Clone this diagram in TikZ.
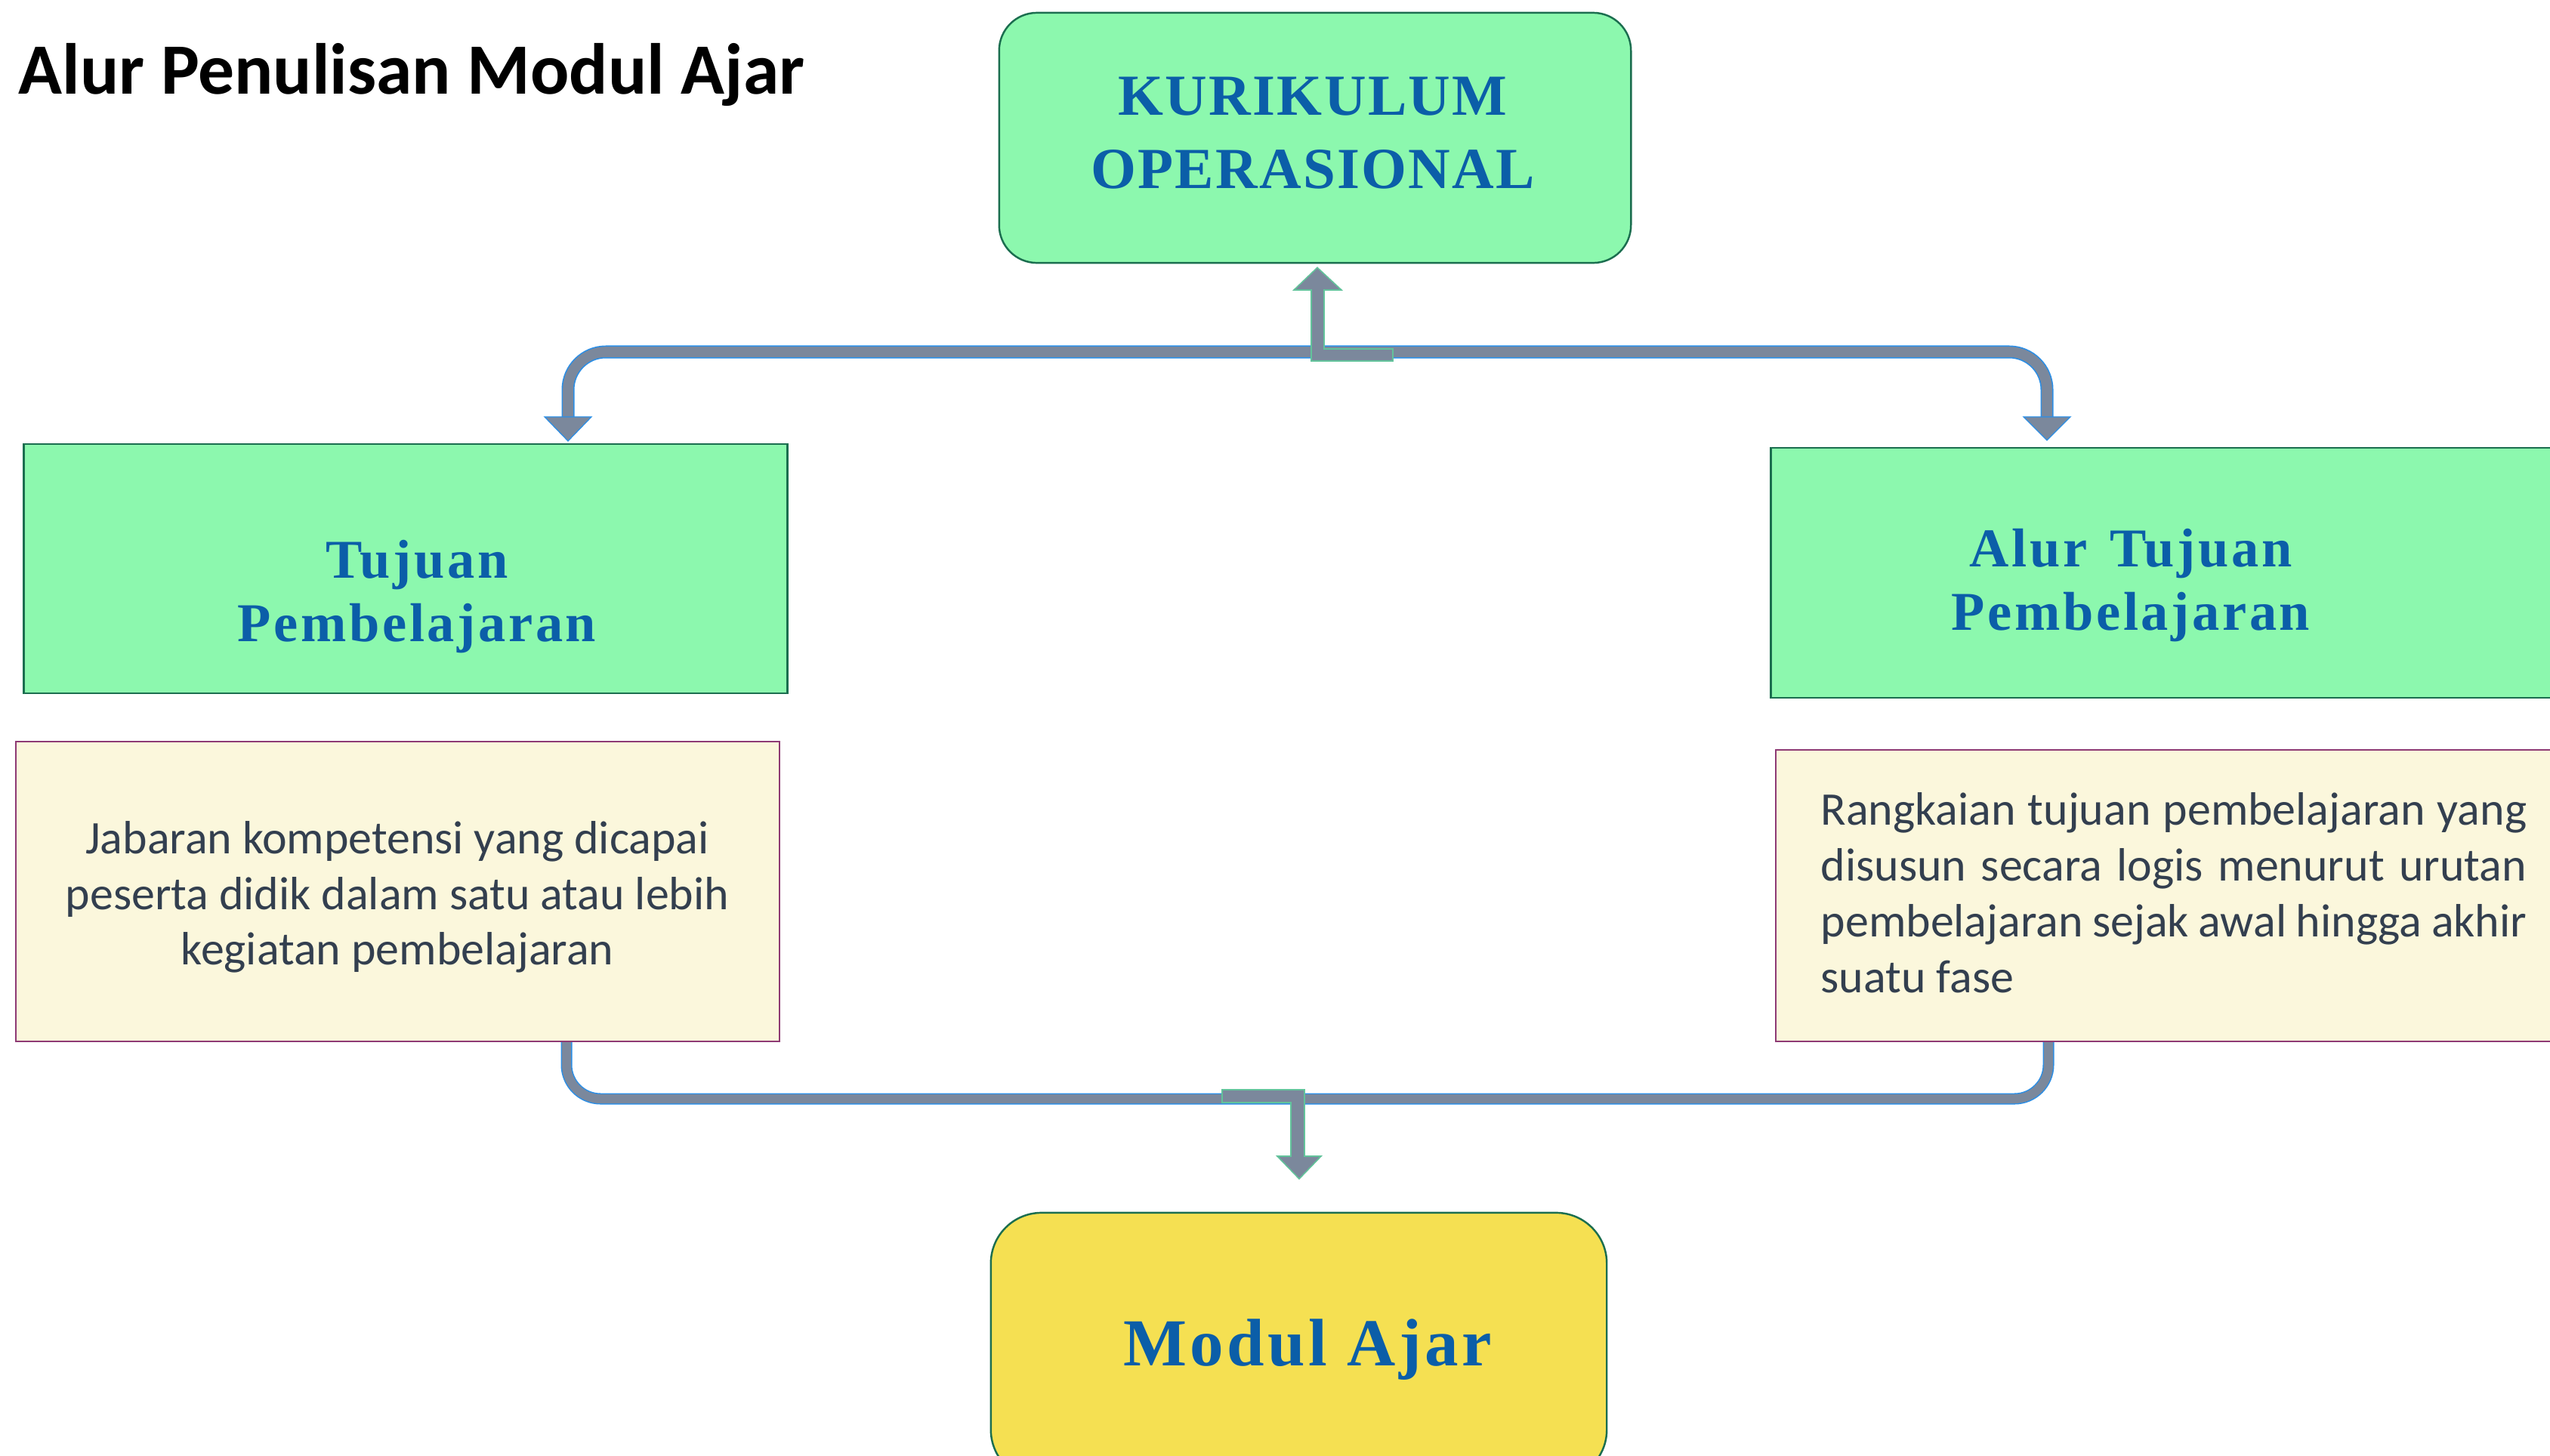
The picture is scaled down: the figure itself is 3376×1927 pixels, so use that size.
\documentclass[tikz,border=0pt]{standalone}
\usepackage{fontspec}
\setmainfont{Carlito}
\newfontfamily\hsA[LetterSpace=3]{Liberation Serif}
\newfontfamily\hsB[LetterSpace=5]{Liberation Serif}
\usetikzlibrary{calc}
\definecolor{gfill}{HTML}{8CF8AE}
\definecolor{gline}{HTML}{1B6E4F}
\definecolor{yfill}{HTML}{F5E052}
\definecolor{cfill}{HTML}{FBF7DC}
\definecolor{pline}{HTML}{8E3A74}
\definecolor{tblue}{HTML}{0B5EA8}
\definecolor{tdark}{HTML}{333F4F}
\definecolor{cgray}{HTML}{7B889C}
\definecolor{cblue}{HTML}{2B8EE6}
\definecolor{cteal}{HTML}{62C39B}
\tikzset{
  gbox/.style={draw=gline, fill=gfill, line width=0.7pt, inner sep=0pt},
  ybox/.style={draw=gline, fill=yfill, line width=0.7pt, inner sep=0pt},
  cbox/.style={draw=pline, fill=cfill, line width=0.6pt, inner sep=0pt},
  headA/.style={font=\hsA\bfseries\fontsize{21.9pt}{27.6pt}\selectfont, text=tblue, align=center, inner sep=0pt},
  headB/.style={font=\hsB\bfseries\fontsize{20.6pt}{24pt}\selectfont, text=tblue, align=center, inner sep=0pt},
  headC/.style={font=\hsB\bfseries\fontsize{25.3pt}{30pt}\selectfont, text=tblue, inner sep=0pt},
  bodytext/.style={font=\fontsize{17.6pt}{20.9pt}\selectfont, text=tdark, inner sep=0pt},
  connout/.style={draw=cblue, line width=4.84pt},
  connin/.style={draw=cgray, line width=3.9pt},
  connoutb/.style={draw=cblue, line width=4.27pt},
  connino/.style={draw=cgray, line width=3.4pt},
  headtip/.style={fill=cgray, draw=cblue, line width=0.35pt},
  bentarrow/.style={fill=cgray, draw=cteal, line width=0.45pt},
}
\begin{document}
\begin{tikzpicture}[x=0.01cm,y=-0.01cm]
\path[use as bounding box] (0,0) rectangle (3376,1927);
\clip (0,0) rectangle (3376,1927);
\fill[white] (0,0) rectangle (3376,1927);

% title
\node[anchor=base west, inner sep=0pt, font=\bfseries\fontsize{27.2pt}{32pt}\selectfont] (title) at (24,124) {Alur Penulisan Modul Ajar};

% boxes
\node[gbox, rounded corners=0.5cm, minimum width=8.36cm, minimum height=3.31cm] (kur) at (1741,182.5) {};
\node[headA] (kurtext) at (1738,176) {KURIKULUM\\OPERASIONAL};

\node[gbox, minimum width=10.10cm, minimum height=3.30cm] (tp) at (537,753) {};
\node[headB] (tptext) at (552,790) {Tujuan\\Pembelajaran};

\node[gbox, minimum width=10.75cm, minimum height=3.31cm] (atp) at (2882.5,758.5) {};
\node[headB] (atptext) at (2821,775) {Alur\hspace{0.12em} Tujuan\\Pembelajaran};

\node[cbox, minimum width=10.11cm, minimum height=3.97cm] (tpdesc) at (526.5,1180.5) {};
\node[bodytext, align=center] (tpdesctext) at (526,1188) {Jabaran kompetensi yang dicapai\\peserta didik dalam satu atau lebih\\kegiatan pembelajaran};

\node[cbox, minimum width=10.69cm, minimum height=3.86cm] (atpdesc) at (2885.5,1186) {};
\node[bodytext, align=left, anchor=west, font=\fontsize{17.6pt}{21.05pt}\selectfont] (atpdesctext) at (2410,1182) {\makebox[9.34cm][s]{Rangkaian tujuan pembelajaran yang}\\\makebox[9.34cm][s]{disusun secara logis menurut urutan}\\\makebox[9.34cm][s]{pembelajaran sejak awal hingga akhir}\\suatu fase};

\node[ybox, rounded corners=0.67cm, minimum width=8.15cm, minimum height=3.54cm] (ma) at (1719.5,1783) {};
\node[headC] (matext) at (1731,1787) {Modul Ajar};

% top bracket connector
\coordinate (tl) at (752,552);
\coordinate (tr) at (2710,552);
\draw[connout, rounded corners=0.5cm] (tl) -- (752,466) -- (2710,466) -- (tr);
\draw[connin, rounded corners=0.5cm] (tl) -- (752,466) -- (2710,466) -- (tr);
\filldraw[headtip] (721,552) -- (783,552) -- (752,584) -- cycle;
\filldraw[headtip] (2679,552) -- (2741,552) -- (2710,583) -- cycle;
% bent up arrow to kurikulum
\filldraw[bentarrow] ($(kur.south)+(3,5)$) -- (1776,384) -- (1753,384) -- (1753,462) -- (1844,462) -- (1844,478) -- (1736,478) -- (1736,384) -- (1713,384) -- cycle;

% bottom bracket connector
\draw[connoutb, rounded corners=0.45cm] (tpdesc.south -| 750,0) -- (750,1455) -- (2712,1455) -- (atpdesc.south -| 2712,0);
\draw[connino, rounded corners=0.45cm] (tpdesc.south -| 750,0) -- (750,1455) -- (2712,1455) -- (atpdesc.south -| 2712,0);
% bent down arrow to modul ajar
\filldraw[bentarrow] (1618,1443) -- (1727,1443) -- (1727,1531) -- (1749,1531) -- (1720,1561) -- (1691,1531) -- (1709,1531) -- (1709,1460) -- (1618,1460) -- cycle;
\end{tikzpicture}
\end{document}
